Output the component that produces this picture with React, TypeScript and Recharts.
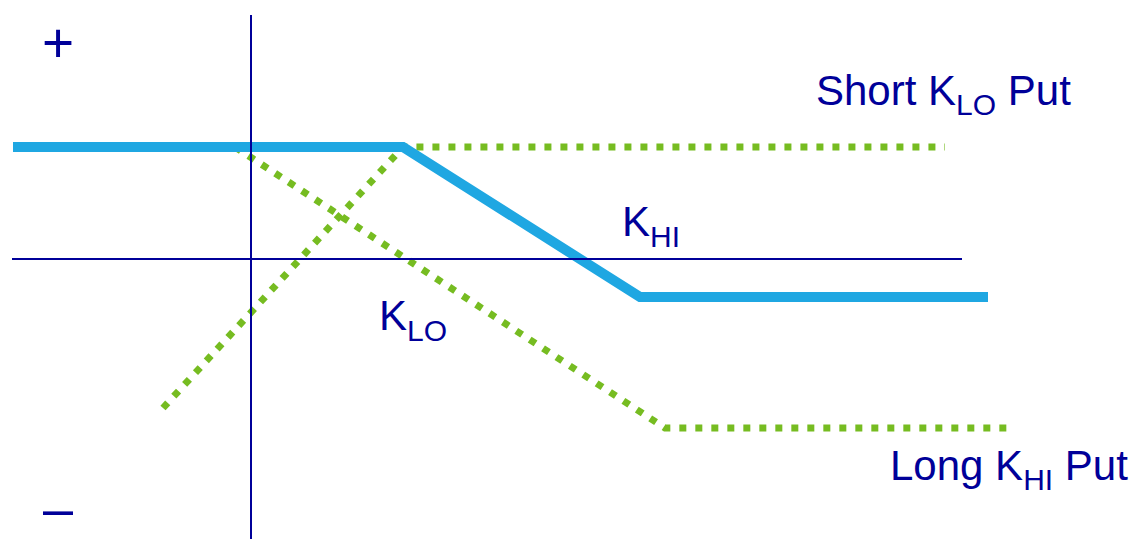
import { LineChart, Line, XAxis, YAxis, ReferenceLine } from "recharts";

// payoff units: origin where the two axes cross, up = positive payoff
const combinedX = [-238, 152, 389, 737];
const combinedY = [112, 112, -38, -38];

const shortPutX = [-88, 152, 694];
const shortPutY = [-149, 112, 112];

const longPutX = [-16, 414, 759];
const longPutY = [112, -169, -169];

const xAxisSpan = [-239, 711];
const yAxisSpan = [-280, 244];

const W = 1137;
const H = 539;
const NAVY = "#000099";
const BLUE = "#1fa7e2";
const GREEN = "#76bc21";

const zip = (xs: number[], ys: number[]) => xs.map((x, i) => ({ x, y: ys[i] }));

const combined = zip(combinedX, combinedY);
const shortPut = zip(shortPutX, shortPutY);
const longPut = zip(longPutX, longPutY);

const font = "'Liberation Sans', Arial, sans-serif";

export default function App() {
  return (
    <div style={{ position: "absolute", left: 0, top: 0, width: W, height: H, background: "#fff" }}>
      <LineChart width={W} height={H} margin={{ top: 0, right: 0, bottom: 0, left: 0 }}>
        <XAxis type="number" dataKey="x" domain={[-251, 886]} hide allowDataOverflow />
        <YAxis type="number" dataKey="y" domain={[-280, 259]} hide allowDataOverflow />
        <Line
          data={shortPut}
          dataKey="y"
          stroke={GREEN}
          strokeWidth={7}
          strokeDasharray="7 9"
          dot={false}
          activeDot={false}
          isAnimationActive={false}
        />
        <Line
          data={longPut}
          dataKey="y"
          stroke={GREEN}
          strokeWidth={7}
          strokeDasharray="7 9"
          dot={false}
          activeDot={false}
          isAnimationActive={false}
        />
        <Line
          data={combined}
          dataKey="y"
          stroke={BLUE}
          strokeWidth={10}
          strokeLinejoin="miter"
          dot={false}
          activeDot={false}
          isAnimationActive={false}
        />
        <ReferenceLine
          segment={[{ x: xAxisSpan[0], y: 0 }, { x: xAxisSpan[1], y: 0 }]}
          stroke={NAVY}
          strokeWidth={2}
          ifOverflow="visible"
        />
        <ReferenceLine
          segment={[{ x: 0, y: yAxisSpan[0] }, { x: 0, y: yAxisSpan[1] }]}
          stroke={NAVY}
          strokeWidth={2}
          ifOverflow="visible"
        />
      </LineChart>
      <svg
        width={W}
        height={H}
        style={{ position: "absolute", left: 0, top: 0, pointerEvents: "none" }}
        fontFamily={font}
        fill={NAVY}
      >
        <text x={58} y={62} fontSize={55} textAnchor="middle">+</text>
        <text x={43} y={527} fontSize={54}>–</text>
        <text x={816} y={105} fontSize={42}>
          Short K<tspan fontSize={30} dy={10}>LO</tspan>
          <tspan dy={-10}> Put</tspan>
        </text>
        <text x={622} y={236} fontSize={42}>
          K<tspan fontSize={30} dy={11}>HI</tspan>
        </text>
        <text x={379} y={330} fontSize={42}>
          K<tspan fontSize={30} dy={11}>LO</tspan>
        </text>
        <text x={890} y={480} fontSize={42}>
          Long K<tspan fontSize={30} dy={10}>HI</tspan>
          <tspan dy={-10}> Put</tspan>
        </text>
      </svg>
    </div>
  );
}
